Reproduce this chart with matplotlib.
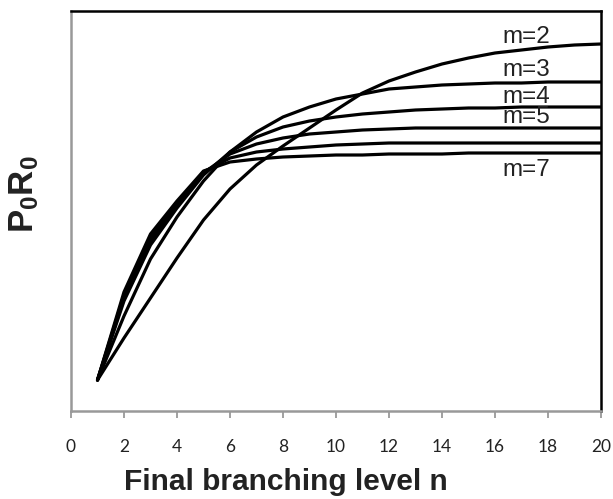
import matplotlib
matplotlib.use("Agg")
import matplotlib.pyplot as plt

# Final branching level
n = list(range(1, 21))

# P0R0 (arbitrary units)
m2 = [31, 73, 113, 153, 191, 222, 246, 265, 283, 301, 318, 330, 339, 347, 353, 358, 361, 364, 366, 367]
m3 = [31, 95, 152, 194, 230, 259, 279, 294, 304, 312, 317, 322, 324, 326, 327, 328, 328, 329, 329, 329]
m4 = [31, 110, 166, 203, 236, 259, 274, 284, 290, 294, 297, 299, 301, 302, 303, 303, 304, 304, 304, 304]
m5 = [31, 113, 170, 206, 238, 257, 267, 273, 277, 279, 281, 282, 283, 283, 283, 283, 283, 283, 283, 283]
m6 = [31, 116, 174, 208, 239, 253, 259, 262, 264, 266, 267, 268, 268, 268, 268, 268, 268, 268, 268, 268]
m7 = [31, 119, 177, 210, 240, 249, 252, 254, 255, 256, 256, 257, 257, 257, 258, 258, 258, 258, 258, 258]

series = [m2, m3, m4, m5, m6, m7]
labels = ["m=2", "m=3", "m=4", "m=5", None, "m=7"]
label_y = [374, 341, 314, 294, None, 241]

xticks = list(range(0, 21, 2))

plt.rcParams['mathtext.fontset'] = 'custom'
plt.rcParams['mathtext.bf'] = 'Liberation Sans:bold'
plt.rcParams['mathtext.rm'] = 'Liberation Sans:bold'
plt.rcParams['mathtext.it'] = 'Liberation Sans:bold'

W, H = 613, 499
fig = plt.figure(figsize=(W / 100, H / 100), dpi=100)
ax = fig.add_axes([71 / W, 88 / H, 530 / W, 400 / H])

for s in series:
    ax.plot(n, s, color='black', lw=2.3, solid_joinstyle='round', solid_capstyle='round')

for lab, ly in zip(labels, label_y):
    if lab:
        ax.text(17.2, ly, lab, fontsize=17.5, family='Liberation Sans',
                ha='center', va='center', color='#222222')

ax.set_xlim(0, 20)
ax.set_ylim(0, 400)
ax.set_xticks(xticks)
ax.set_xticklabels([str(t) for t in xticks], family='Lato', fontsize=12.5, color='#222222')
ax.set_yticks([])
ax.tick_params(axis='x', direction='out', length=5, width=1.3, color='#999999', pad=15)

for side in ['left', 'bottom']:
    ax.spines[side].set_color('#999999')
    ax.spines[side].set_linewidth(1.8)
for side in ['top', 'right']:
    ax.spines[side].set_color('black')
    ax.spines[side].set_linewidth(1.8)

fig.text(286 / W, 1 - 490 / H, 'Final branching level n', fontsize=21.5, fontweight='bold',
         family='Liberation Sans', color='#222222', ha='center', va='baseline')
fig.text(24 / W, 1 - 194 / H, r'$\mathbf{P_0R_0}$', fontsize=25, color='#222222',
         rotation=90, ha='center', va='center')

fig.savefig('out.png', dpi=100)
